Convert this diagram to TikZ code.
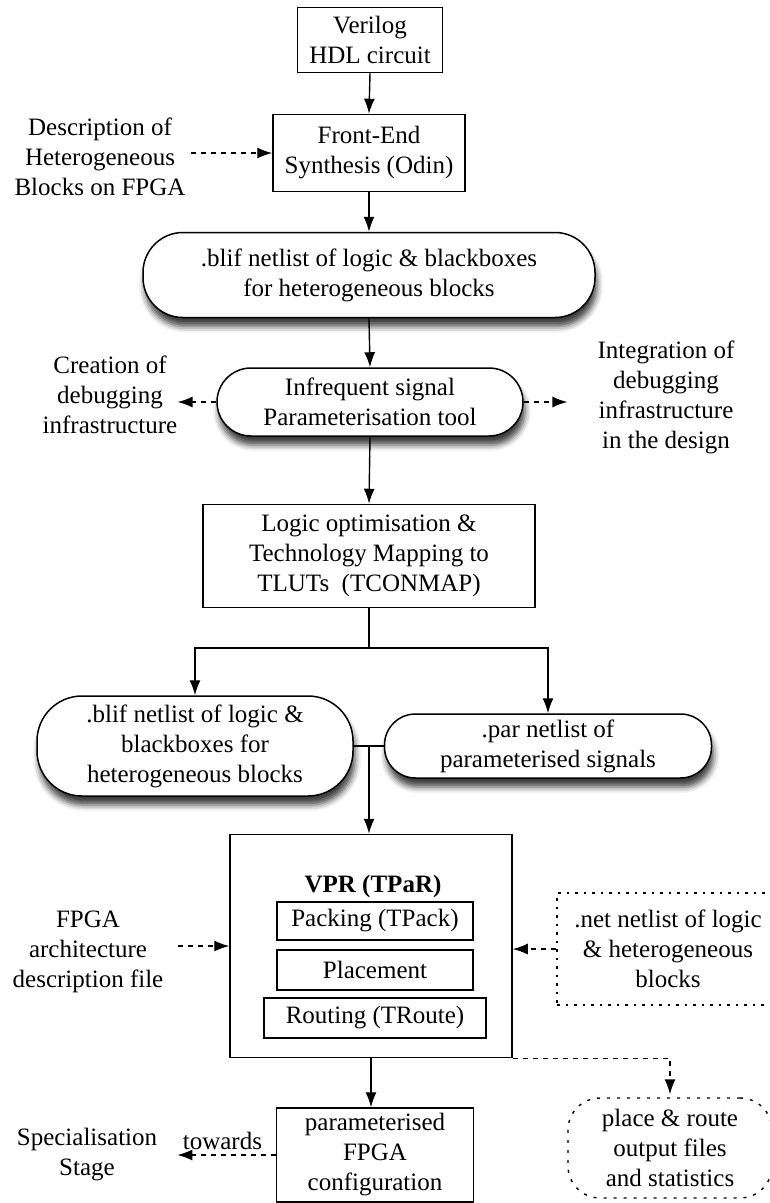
\documentclass[tikz,border=0pt]{standalone}
\usepackage{fontspec}
\setmainfont{Liberation Serif}
\usetikzlibrary{arrows.meta,shadows.blur,calc}
\begin{document}
\begin{tikzpicture}[x=1pt,y=-1pt,
  every node/.style={font=\fontsize{25}{30}\selectfont, align=center, inner sep=0pt},
  procbox/.style={draw, line width=1.5pt, rectangle, fill=white},
  pill/.style={draw, line width=1.5pt, rounded corners=#1, fill=white,
    blur shadow={shadow xshift=2pt, shadow yshift=-9pt, shadow blur radius=6pt, shadow opacity=75}},
  netbox/.style={draw, line width=1.4pt, dash pattern=on 2.5pt off 6pt},
  outbox/.style={draw, line width=1.4pt, dash pattern=on 3pt off 7pt, rounded corners=32pt},
  arr/.style={draw, line width=1.4pt, -{Latex[length=15pt,width=11pt]}},
  dasharr/.style={draw, line width=1.4pt, dash pattern=on 5pt off 5pt, -{Latex[length=15pt,width=11pt]}},
  plain/.style={draw, line width=1.4pt},
]
\useasboundingbox (0,0) rectangle (770,1203);

% main flow, top part
\node[procbox, minimum width=145pt, minimum height=65pt] (verilog) at (370,40) {Verilog\\HDL circuit};
\node[procbox, minimum width=192pt, minimum height=77pt] (front) at (369,153) {Front-End\\Synthesis (Odin)};
\node (desc) at (100,157) {Description of\\Heterogeneous\\Blocks on FPGA};
\node[pill=40pt, minimum width=452pt, minimum height=85pt] (blif) at (369,275)
  {.blif netlist of logic \& blackboxes\\for heterogeneous blocks};
\node[pill=34pt, minimum width=306pt, minimum height=68pt] (infreq) at (370,402)
  {Infrequent signal\\Parameterisation tool};
\node (creation) at (110,395) {Creation of\\debugging\\infrastructure};
\node (integ) at (666,397) {Integration of\\debugging\\infrastructure\\in the design};
\node[procbox, minimum width=332pt, minimum height=103pt] (logic) at (369,556)
  {Logic optimisation \&\\Technology Mapping to\\TLUTs\ \ (TCONMAP)};

% the two netlists
\node[pill=45pt, minimum width=316pt, minimum height=100pt] (blif2) at (195,746)
  {.blif netlist of logic \&\\blackboxes for\\heterogeneous blocks};
\node[pill=31pt, minimum width=327pt, minimum height=64pt] (par) at (548,746)
  {.par netlist of\\parameterised signals};

% place and route
\node[procbox, minimum width=282pt, minimum height=223pt] (vpr) at (371,946) {};
\node[font=\fontsize{25}{30}\selectfont\bfseries] (vprtitle) at (373,886) {VPR (TPaR)};
\node[procbox, minimum width=196pt, minimum height=38pt] (pack) at (375,921) {Packing (TPack)};
\node[procbox, minimum width=196pt, minimum height=40pt] (place) at (375,970) {Placement};
\node[procbox, minimum width=222pt, minimum height=40pt] (route) at (375,1018) {Routing (TRoute)};
\node (fpga) at (88,952) {FPGA\\architecture\\description file};
\node[netbox, minimum width=222pt, minimum height=112pt] (net) at (668,949)
  {.net netlist of logic\\\& heterogeneous\\blocks};

% outputs
\node[procbox, minimum width=197pt, minimum height=94pt] (config) at (375,1155)
  {parameterised\\FPGA\\configuration};
\node[outbox, minimum width=204pt, minimum height=100pt] (prout) at (670,1148)
  {place \& route\\output files\\and statistics};
\node (spec) at (87,1155) {Specialisation\\Stage};

% connectors
\draw[arr] (verilog.south) -- (front.north);
\draw[dasharr, shorten <=5pt] (desc.east |- front.west) -- (front.west);
\draw[arr] (front.south) -- (blif.north);
\draw[arr] (blif.south) -- (infreq.north);
\draw[dasharr] (infreq.west) -- (infreq.west -| creation.east);
\draw[dasharr, shorten >=30pt] (infreq.east) -- (infreq.east -| integ.west);
\draw[arr] (infreq.south) -- (logic.north);

\coordinate (br) at (369,648);
\draw[arr] (logic.south) -- (br) -| (blif2.north);
\draw[arr] (br) -| (par.north);

\coordinate (jn) at (369,746);
\draw[plain] (blif2.east) -- (par.west);
\draw[arr] (jn) -- (jn |- vpr.north);

\draw[dasharr, shorten <=14pt] (fpga.east |- vpr.west) -- (vpr.west);
\draw[dasharr] (net.west) -- (net.west -| vpr.east);

\draw[arr] (vpr.south) -- (vpr.south |- config.north);
\draw[dasharr, shorten >=3pt] (vpr.south east) -| (prout.north);
\draw[dasharr, shorten >=20pt] (config.west) -- (config.west -| spec.east)
  node[pos=0.45, above=5pt] (towards) {towards};
\end{tikzpicture}
\end{document}
